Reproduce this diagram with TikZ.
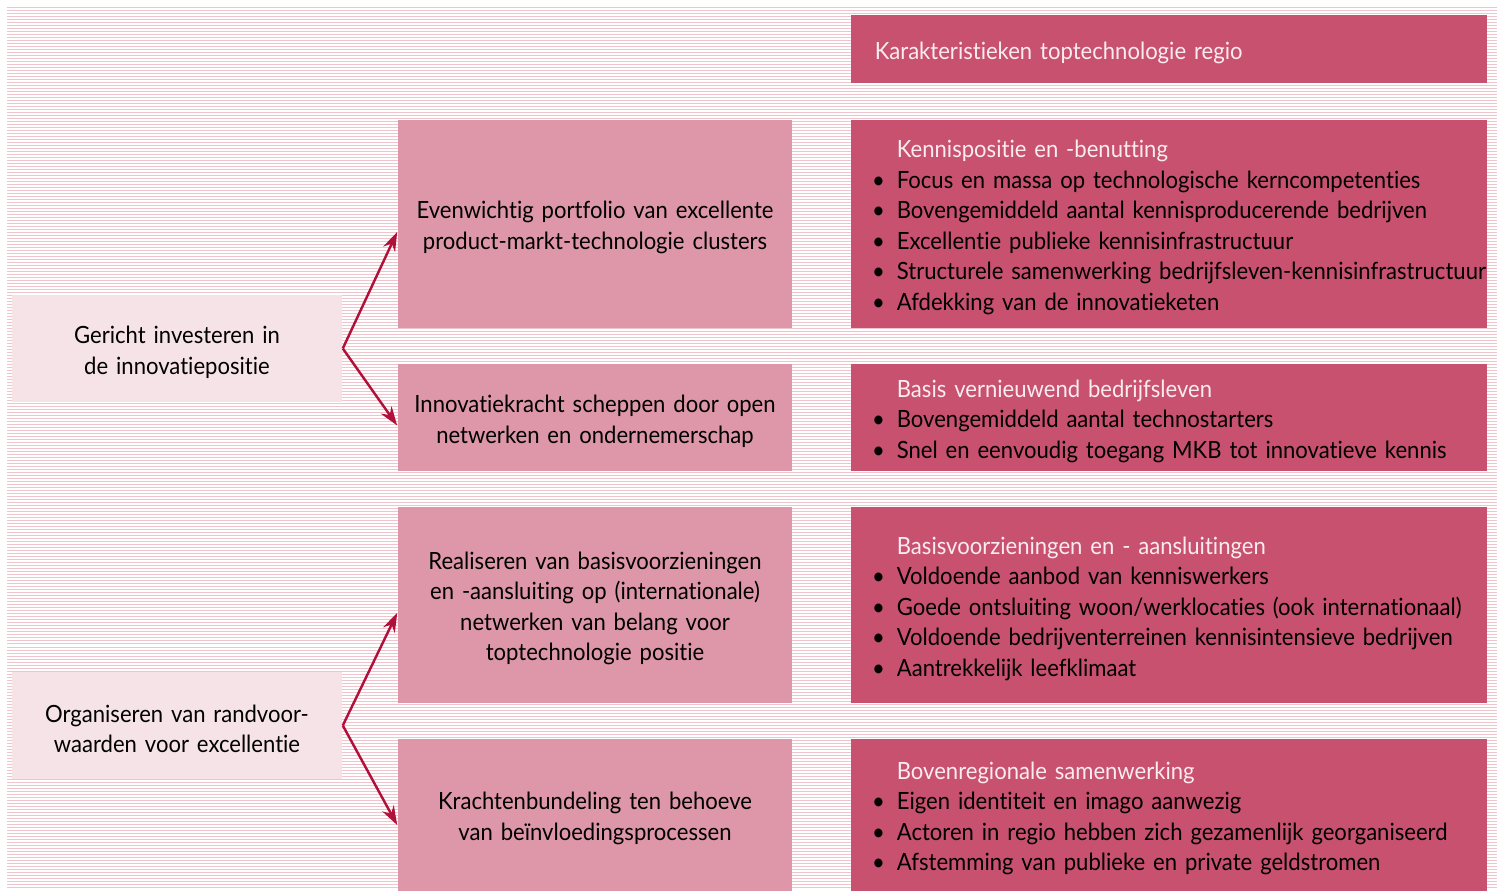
\documentclass[tikz,border=0pt]{standalone}
\usepackage{fontspec}
\setmainfont{Lato}[FakeStretch=0.93, WordSpace=0.8, Ligatures=CommonOff]
\usetikzlibrary{arrows.meta}
\setlength{\parindent}{0pt}
\definecolor{stripe}{HTML}{EFC4CD}
\definecolor{rose}{HTML}{F6E3E7}
\definecolor{midrose}{HTML}{DE97A9}
\definecolor{darkrose}{HTML}{C8516F}
\definecolor{arrowred}{HTML}{B0103A}
\definecolor{headtext}{HTML}{FAECEF}
\newcommand{\txtsize}{\fontsize{6.75}{8.68}\selectfont}
\newcommand{\bul}{\leavevmode\llap{\textbullet\hspace{0.12cm}}}
\newcommand{\boxtxt}[2]{\leftskip=#1\relax\rule{0pt}{7pt}#2\par}
\newcommand{\ctrtxt}[1]{\rule{0pt}{7pt}#1\par}
\tikzset{
	leftbox/.style={fill=rose, minimum width=3.30cm, text width=3.30cm, minimum height=1.07cm, align=center, font=\txtsize, inner sep=0pt},
	midbox/.style={fill=midrose, minimum width=3.94cm, text width=3.94cm, align=center, font=\txtsize, inner sep=0pt},
	darkbox/.style={fill=darkrose, text width=6.36cm, inner sep=0pt, align=left, font=\txtsize},
	branch/.style={draw=arrowred, line width=0.7pt, -{Stealth[length=0.19cm, width=0.13cm]}}
}
\begin{document}
\begin{tikzpicture}[x=0.01cm, y=-0.01cm]
	\useasboundingbox (0,0) rectangle (1504,892);
	\draw [stripe, line width=0.01cm] \foreach \y in {8,11,...,889} {(7,\y) -- (1497,\y)};
	% right column
	\node [darkbox, minimum height=0.68cm, text=headtext] (kar) at (1169,49) {\boxtxt{0.24cm}{Karakteristieken toptechnologie regio}};
	\node [darkbox, minimum height=2.08cm] (kenn) at (1169,224) {\boxtxt{0.46cm}{{\color{headtext}Kennispositie en -benutting}\\
		\bul Focus en massa op technologische kerncompetenties\\
		\bul Bovengemiddeld aantal kennisproducerende bedrijven\\
		\bul Excellentie publieke kennisinfrastructuur\\
		\bul \mbox{Structurele samenwerking bedrijfsleven-kennisinfrastructuur}\\
		\bul Afdekking van de innovatieketen}};
	\node [darkbox, minimum height=1.07cm] (basis) at (1169,417.5) {\boxtxt{0.46cm}{{\color{headtext}Basis vernieuwend bedrijfsleven}\\
		\bul Bovengemiddeld aantal technostarters\\
		\bul \mbox{Snel en eenvoudig toegang MKB tot innovatieve kennis}}};
	\node [darkbox, minimum height=1.96cm] (voorz) at (1169,605) {\boxtxt{0.46cm}{{\color{headtext}Basisvoorzieningen en - aansluitingen}\\
		\bul Voldoende aanbod van kenniswerkers\\
		\bul \mbox{Goede ontsluiting woon/werklocaties (ook internationaal)}\\
		\bul \mbox{Voldoende bedrijventerreinen kennisintensieve bedrijven}\\
		\bul Aantrekkelijk leefklimaat}};
	\node [darkbox, minimum height=1.52cm] (boven) at (1169,815) {\boxtxt{0.46cm}{{\color{headtext}Bovenregionale samenwerking}\\
		\bul Eigen identiteit en imago aanwezig\\
		\bul \mbox{Actoren in regio hebben zich gezamenlijk georganiseerd}\\
		\bul Afstemming van publieke en private geldstromen}};
	% middle column
	\node [midbox, minimum height=2.08cm] (port) at (595,224) {\ctrtxt{Evenwichtig portfolio van excellente\\product-markt-technologie clusters}};
	\node [midbox, minimum height=1.07cm] (netw) at (595,417.5) {\ctrtxt{Innovatiekracht scheppen door open\\netwerken en ondernemerschap}};
	\node [midbox, minimum height=1.96cm] (real) at (595,605) {\ctrtxt{Realiseren van basisvoorzieningen\\en -aansluiting op (internationale)\\netwerken van belang voor\\toptechnologie positie}};
	\node [midbox, minimum height=1.52cm] (kracht) at (595,815) {\ctrtxt{Krachtenbundeling ten behoeve\\van beïnvloedingsprocessen}};
	% left column
	\node [leftbox] (inv) at (177,348.5) {\ctrtxt{Gericht investeren in\\de innovatiepositie}};
	\node [leftbox] (rand) at (177,725.5) {\ctrtxt{Organiseren van randvoor-\\waarden voor excellentie}};
	\draw [branch] (inv.east) -- ([yshift=-0.08cm]port.west);
	\draw [branch] (inv.east) -- ([yshift=-0.08cm]netw.west);
	\draw [branch] (rand.east) -- ([yshift=-0.08cm]real.west);
	\draw [branch] (rand.east) -- ([yshift=-0.1cm]kracht.west);
\end{tikzpicture}
\end{document}
